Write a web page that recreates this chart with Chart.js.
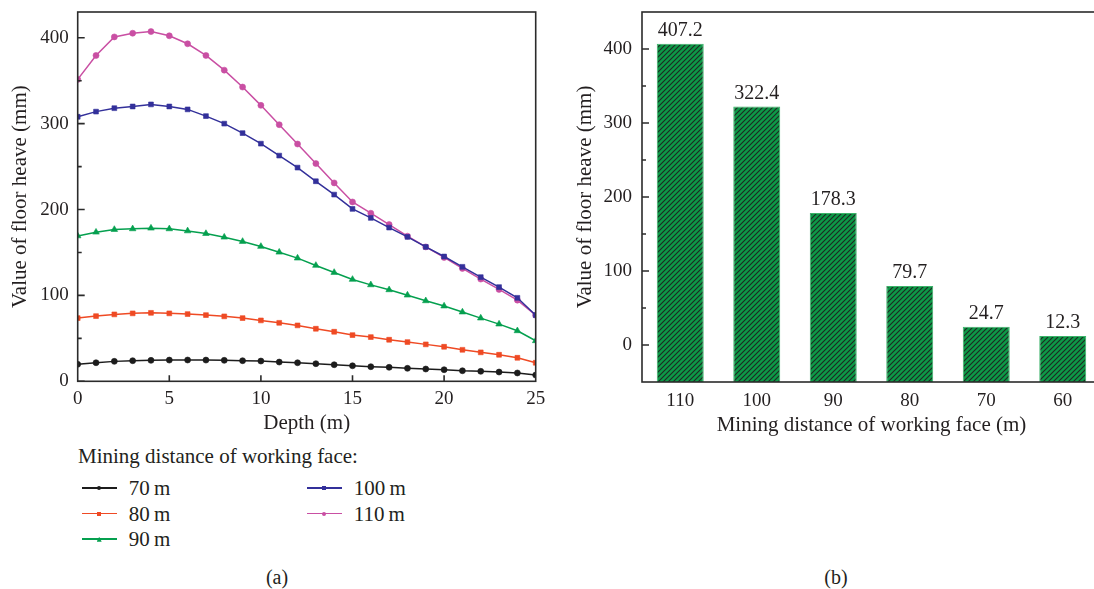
<!DOCTYPE html>
<html>
<head>
<meta charset="utf-8">
<script src="https://cdn.jsdelivr.net/npm/chart.js@4.4.1/dist/chart.umd.min.js"></script>
<style>
  html, body { margin: 0; padding: 0; background: #fff; overflow: hidden; width: 1094px; height: 589px; }
  body { position: relative; font-family: 'Liberation Serif', serif; color: #231f20; }
  .box { position: absolute; top: 0; height: 440px; }
  #left-box { left: 0; width: 560px; }
  #right-box { left: 560px; width: 560px; }
  .legend-title { position: absolute; left: 78px; top: 444px; font-size: 21px; line-height: 24px; white-space: nowrap; }
  .legend-item { position: absolute; width: 120px; height: 24px; font-size: 21px; line-height: 24px; white-space: nowrap; }
  .legend-line { position: absolute; left: 0; top: 11px; width: 35px; height: 1.5px; }
  .legend-mark { position: absolute; }
  .legend-text { position: absolute; left: 47px; top: 0; }
  .caption { position: absolute; top: 565px; font-size: 20px; line-height: 24px; transform: translateX(-50%); }
</style>
</head>
<body>
<div id="left-box" class="box"><canvas id="left-chart"></canvas></div>
<div id="right-box" class="box"><canvas id="right-chart"></canvas></div>
<div class="legend-title">Mining distance of working face:</div>
<div id="legend"></div>
<div class="caption" style="left:277px">(a)</div>
<div class="caption" style="left:836px">(b)</div>

<script>
// depth below the floor (m)
const depth = [0, 1, 2, 3, 4, 5, 6, 7, 8, 9, 10, 11, 12, 13, 14, 15, 16, 17, 18, 19, 20, 21, 22, 23, 24, 25];

// floor heave (mm) for each mining distance
const heave70 = [19.8, 21.6, 23.2, 24.0, 24.4, 24.7, 24.8, 24.7, 24.4, 24.0, 23.6, 22.4, 21.6, 20.5, 19.3, 18.1, 17.0, 16.3, 15.1, 14.3, 13.5, 12.3, 11.6, 10.8, 9.7, 7.3];
const heave80 = [73.6, 75.9, 77.9, 79.1, 79.7, 79.1, 78.3, 77.1, 75.6, 73.6, 70.9, 68.1, 65.1, 61.2, 57.7, 53.8, 51.5, 48.4, 45.7, 43.0, 40.2, 36.7, 33.7, 30.9, 27.4, 21.6];
const heave90 = [169.3, 173.6, 176.7, 177.5, 178.3, 177.5, 175.1, 172.0, 167.8, 162.8, 157.0, 150.3, 143.4, 134.9, 126.7, 118.6, 112.3, 106.5, 100.3, 93.7, 87.6, 80.6, 73.6, 66.6, 58.8, 47.2];
const heave100 = [308.0, 314.0, 318.0, 320.0, 322.4, 320.0, 316.6, 308.8, 300.0, 289.0, 276.7, 262.8, 248.8, 232.9, 217.4, 200.7, 190.2, 179.0, 168.1, 156.5, 145.3, 133.3, 121.3, 109.7, 97.2, 77.0];
const heave110 = [351.5, 379.4, 401.0, 405.3, 407.2, 402.3, 393.0, 379.4, 362.3, 342.6, 321.3, 298.8, 276.3, 253.5, 231.0, 208.8, 195.7, 182.5, 169.0, 156.5, 144.2, 131.4, 119.0, 107.0, 94.5, 77.0];

const faceLabels = ['70\u2009m', '80\u2009m', '90\u2009m', '100\u2009m', '110\u2009m'];
const faceSeries = [heave70, heave80, heave90, heave100, heave110];
const faceColors = ['#1c1c1c', '#ef4a24', '#05a04f', '#33309a', '#c94fa3'];
const faceMarkers = ['circle', 'rect', 'triangle', 'rect', 'circle'];
const markerRadius = { circle: 3, rect: 3.4, triangle: 3.8 };

// maximum heave per mining distance
const barCategories = ['110', '100', '90', '80', '70', '60'];
const barValues = [407.2, 322.4, 178.3, 79.7, 24.7, 12.3];

const yMajor = [0, 100, 200, 300, 400];
const yMinor = [50, 150, 250, 350];
const xMajorLeft = [5, 10, 15, 20];

Chart.defaults.font.family = "'Liberation Serif', serif";
Chart.defaults.font.size = 19;
Chart.defaults.color = '#231f20';

// keep the plot area fixed: exact scale size, no label overhang padding
function fixSize(prop, value) {
  return s => {
    s[prop] = value;
    s.paddingTop = 0;
    s.paddingBottom = 0;
    s.paddingLeft = 0;
    s.paddingRight = 0;
  };
}

// box around the plot area plus inward tick marks
function framePlugin(xTicks) {
  return {
    id: 'frame',
    afterDatasetsDraw(chart) {
      const { ctx, chartArea: a, scales } = chart;
      ctx.save();
      ctx.strokeStyle = '#2b2b2b';
      ctx.lineWidth = 1.6;
      ctx.beginPath();
      yMajor.forEach(v => {
        const y = scales.y.getPixelForValue(v);
        ctx.moveTo(a.left, y); ctx.lineTo(a.left + 7, y);
      });
      yMinor.forEach(v => {
        const y = scales.y.getPixelForValue(v);
        ctx.moveTo(a.left, y); ctx.lineTo(a.left + 4, y);
      });
      xTicks.forEach(v => {
        const x = scales.x.getPixelForValue(v);
        ctx.moveTo(x, a.bottom); ctx.lineTo(x, a.bottom - 6);
      });
      ctx.stroke();
      ctx.strokeRect(a.left, a.top, a.right - a.left, a.bottom - a.top);
      ctx.restore();
    }
  };
}

// value written above each bar
const barLabelPlugin = {
  id: 'barLabels',
  afterDatasetsDraw(chart) {
    const { ctx } = chart;
    const meta = chart.getDatasetMeta(0);
    ctx.save();
    ctx.font = "20px 'Liberation Serif', serif";
    ctx.fillStyle = '#231f20';
    ctx.textAlign = 'center';
    ctx.textBaseline = 'bottom';
    meta.data.forEach((bar, i) => {
      ctx.fillText(barValues[i].toFixed(1), bar.x, bar.y - 3);
    });
    ctx.restore();
  }
};

function makeHatch() {
  const s = 5;
  const c = document.createElement('canvas');
  c.width = s; c.height = s;
  const g = c.getContext('2d');
  g.fillStyle = '#0d9a48';
  g.fillRect(0, 0, s, s);
  g.strokeStyle = '#1e2a22';
  g.lineWidth = 1.1;
  g.beginPath();
  g.moveTo(-1, s + 1); g.lineTo(s + 1, -1);
  g.moveTo(-1, 1); g.lineTo(1, -1);
  g.moveTo(s - 1, s + 1); g.lineTo(s + 1, s - 1);
  g.stroke();
  return g.createPattern(c, 'repeat');
}

new Chart(document.getElementById('left-chart'), {
  type: 'line',
  data: {
    datasets: faceSeries.map((s, i) => ({
      label: faceLabels[i],
      data: depth.map((d, j) => ({ x: d, y: s[j] })),
      borderColor: faceColors[i],
      backgroundColor: faceColors[i],
      borderWidth: 1.5,
      pointStyle: faceMarkers[i],
      pointRadius: markerRadius[faceMarkers[i]],
      pointBorderWidth: 0.6,
      tension: 0
    }))
  },
  options: {
    responsive: true,
    maintainAspectRatio: false,
    animation: false,
    layout: { padding: { top: 12, right: 24.3, left: 0, bottom: 0 } },
    plugins: { legend: { display: false }, tooltip: { enabled: false } },
    scales: {
      x: {
        type: 'linear', min: 0, max: 25,
        grid: { display: false, drawTicks: false },
        border: { display: false },
        ticks: { stepSize: 5, padding: 6 },
        title: { display: true, text: 'Depth (m)', font: { size: 21 }, padding: { top: 4, bottom: 4 } },
        afterFit: fixSize('height', 58.7)
      },
      y: {
        min: 0, max: 430,
        grid: { display: false, drawTicks: false },
        border: { display: false },
        ticks: { padding: 9 },
        afterBuildTicks: s => { s.ticks = yMajor.map(v => ({ value: v })); },
        title: { display: true, text: 'Value of floor heave (mm)', font: { size: 21 }, padding: { top: 8, bottom: 8 } },
        afterFit: fixSize('width', 77.7)
      }
    }
  },
  plugins: [framePlugin(xMajorLeft)]
});

new Chart(document.getElementById('right-chart'), {
  type: 'bar',
  data: {
    labels: barCategories,
    datasets: [{
      data: barValues,
      base: -50,
      backgroundColor: makeHatch(),
      borderColor: '#3cb36a',
      borderWidth: 1,
      categoryPercentage: 1,
      barPercentage: 0.614
    }]
  },
  options: {
    responsive: true,
    maintainAspectRatio: false,
    animation: false,
    layout: { padding: { top: 12, right: 19, left: 0, bottom: 0 } },
    plugins: { legend: { display: false }, tooltip: { enabled: false } },
    scales: {
      x: {
        grid: { display: false, drawTicks: false },
        border: { display: false },
        ticks: { padding: 8 },
        title: { display: true, text: 'Mining distance of working face (m)', font: { size: 21 }, padding: { top: 2, bottom: 2 } },
        afterFit: fixSize('height', 58)
      },
      y: {
        min: -50, max: 450,
        grid: { display: false, drawTicks: false },
        border: { display: false },
        ticks: { padding: 10 },
        afterBuildTicks: s => { s.ticks = yMajor.map(v => ({ value: v })); },
        title: { display: true, text: 'Value of floor heave (mm)', font: { size: 21 }, padding: { top: 13, bottom: 8 } },
        afterFit: fixSize('width', 82)
      }
    }
  },
  plugins: [framePlugin([]), barLabelPlugin]
});

// legend for the depth curves, two columns
const legend = document.getElementById('legend');
faceLabels.forEach((label, i) => {
  const col = i < 3 ? 0 : 1;
  const row = i < 3 ? i : i - 3;
  const item = document.createElement('div');
  item.className = 'legend-item';
  item.style.left = (col === 0 ? 81.7 : 306.7) + 'px';
  item.style.top = (476.3 + row * 25.5) + 'px';

  const line = document.createElement('div');
  line.className = 'legend-line';
  line.style.background = faceColors[i];
  item.appendChild(line);

  const mark = document.createElement('div');
  mark.className = 'legend-mark';
  mark.style.background = faceColors[i];
  if (faceMarkers[i] === 'circle') {
    mark.style.cssText += 'left:15.5px;top:10px;width:4px;height:4px;border-radius:50%;';
  } else if (faceMarkers[i] === 'rect') {
    mark.style.cssText += 'left:15.5px;top:10px;width:4px;height:4px;';
  } else {
    mark.style.cssText += 'left:15px;top:9.5px;width:5px;height:5px;clip-path:polygon(50% 0,100% 100%,0 100%);';
  }
  item.appendChild(mark);

  const text = document.createElement('span');
  text.className = 'legend-text';
  text.textContent = label;
  item.appendChild(text);

  legend.appendChild(item);
});
</script>
</body>
</html>
